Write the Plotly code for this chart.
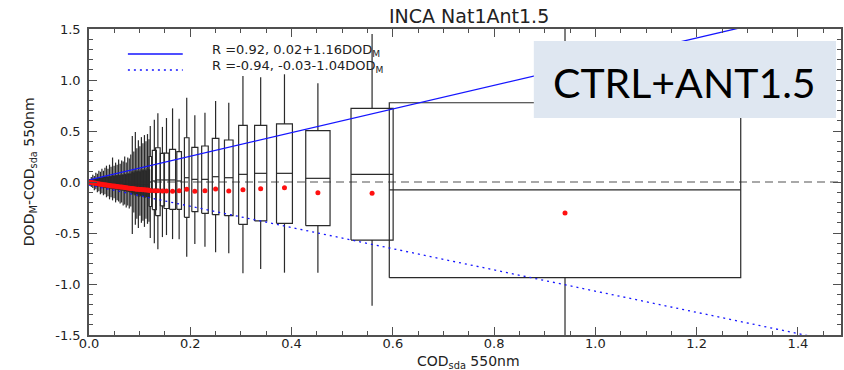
import plotly.graph_objects as go

# ---------------- data ----------------
# dense, narrow bins (COD_sda < 0.12)
dense_x = [0.0015, 0.0045, 0.0075, 0.0105, 0.0135, 0.0165, 0.0195, 0.0225, 0.0255, 0.0285,
           0.0315, 0.0345, 0.0375, 0.0405, 0.0435, 0.0465, 0.0495, 0.0525, 0.0555, 0.0585,
           0.0615, 0.0645, 0.0675, 0.0705, 0.0735, 0.0765, 0.0795, 0.0825, 0.0855, 0.0885,
           0.0915, 0.0945, 0.0975, 0.1005, 0.1035, 0.1065, 0.1095, 0.1125, 0.1155, 0.1185]
dense_hw = [0.0012] * 40
dense_hi = [0.03, 0.05, 0.07, 0.06, 0.09, 0.08, 0.11, 0.10, 0.13, 0.11,
            0.14, 0.16, 0.13, 0.17, 0.15, 0.24, 0.16, 0.19, 0.17, 0.22,
            0.18, 0.21, 0.20, 0.25, 0.19, 0.24, 0.23, 0.27, 0.45, 0.30,
            0.49, 0.33, 0.41, 0.35, 0.44, 0.38, 0.46, 0.40, 0.47, 0.42]
dense_q3 = [0.01, 0.015, 0.02, 0.02, 0.03, 0.03, 0.035, 0.035, 0.04, 0.04,
            0.045, 0.05, 0.045, 0.05, 0.05, 0.06, 0.055, 0.06, 0.06, 0.065,
            0.06, 0.07, 0.065, 0.075, 0.07, 0.08, 0.075, 0.08, 0.10, 0.09,
            0.11, 0.10, 0.11, 0.10, 0.12, 0.11, 0.12, 0.11, 0.13, 0.12]
dense_med = [0.0, 0.0, -0.002, -0.003, -0.004, -0.005, -0.006, -0.007, -0.008, -0.009,
             -0.010, -0.011, -0.012, -0.013, -0.013, -0.014, -0.015, -0.015, -0.016, -0.017,
             -0.017, -0.018, -0.019, -0.019, -0.020, -0.020, -0.021, -0.021, -0.022, -0.022,
             -0.023, -0.023, -0.024, -0.024, -0.025, -0.025, -0.025, -0.026, -0.026, -0.026]
dense_q1 = [-0.012, -0.018, -0.022, -0.028, -0.03, -0.035, -0.035, -0.04, -0.045, -0.05,
            -0.05, -0.055, -0.055, -0.06, -0.06, -0.065, -0.065, -0.07, -0.07, -0.075,
            -0.075, -0.08, -0.08, -0.085, -0.09, -0.09, -0.095, -0.095, -0.12, -0.11,
            -0.13, -0.12, -0.14, -0.13, -0.14, -0.14, -0.15, -0.14, -0.15, -0.15]
dense_lo = [-0.03, -0.05, -0.06, -0.08, -0.07, -0.10, -0.09, -0.12, -0.11, -0.13,
            -0.12, -0.15, -0.14, -0.17, -0.15, -0.18, -0.16, -0.20, -0.18, -0.19,
            -0.21, -0.20, -0.23, -0.22, -0.25, -0.23, -0.26, -0.24, -0.51, -0.30,
            -0.42, -0.36, -0.45, -0.33, -0.40, -0.38, -0.44, -0.36, -0.41, -0.39]
dense_mean = [-0.002, -0.005, -0.008, -0.011, -0.013, -0.016, -0.018, -0.021, -0.023, -0.026,
              -0.028, -0.030, -0.032, -0.034, -0.036, -0.038, -0.040, -0.042, -0.044, -0.046,
              -0.048, -0.050, -0.052, -0.054, -0.056, -0.058, -0.061, -0.063, -0.064, -0.066,
              -0.068, -0.070, -0.071, -0.073, -0.074, -0.075, -0.077, -0.078, -0.079, -0.080]

# wider bins
wide_x = [0.121, 0.129, 0.136, 0.145, 0.153, 0.165, 0.178, 0.193, 0.209, 0.229,
          0.250, 0.276, 0.304, 0.339, 0.386, 0.452, 0.559, 0.940]
wide_hw = [0.0026, 0.004, 0.0045, 0.004, 0.005, 0.006, 0.0046, 0.0046, 0.006, 0.0065,
           0.0065, 0.0085, 0.0085, 0.012, 0.0157, 0.024, 0.0416, 0.347]
wide_hi = [0.55, 0.61, 0.673, 0.54, 0.627, 0.722, 0.621, 0.827, 0.654, 0.680,
           0.794, 0.778, 1.039, 1.026, 1.056, 0.967, 1.45, 1.6]
wide_q3 = [0.25, 0.31, 0.336, 0.28, 0.284, 0.32, 0.297, 0.434, 0.340, 0.353,
           0.428, 0.412, 0.556, 0.556, 0.569, 0.503, 0.722, 0.777]
wide_med = [0.0, 0.01, 0.02, 0.02, 0.02, 0.02, 0.01, 0.042, 0.026, 0.026,
            0.052, 0.042, 0.075, 0.085, 0.085, 0.036, 0.075, -0.078]
wide_q1 = [-0.24, -0.27, -0.33, -0.235, -0.26, -0.268, -0.268, -0.346, -0.291, -0.307,
           -0.320, -0.330, -0.415, -0.382, -0.405, -0.428, -0.569, -0.938]
wide_lo = [-0.55, -0.60, -0.66, -0.54, -0.52, -0.56, -0.562, -0.732, -0.608, -0.634,
           -0.689, -0.699, -0.895, -0.853, -0.889, -0.889, -1.213, -1.6]
wide_mean = [-0.083, -0.085, -0.087, -0.088, -0.089, -0.090, -0.085, -0.072, -0.091, -0.085,
             -0.069, -0.088, -0.075, -0.065, -0.056, -0.105, -0.111, -0.304]

# regression lines
fit_r = [0.92, -0.94]
fit_intercept = [0.02, -0.03]
fit_slope = [1.16, -1.04]
fit_dash = ["solid", "2px,4px"]

x_ticks = [0.0, 0.2, 0.4, 0.6, 0.8, 1.0, 1.2, 1.4]
y_ticks = [-1.5, -1.0, -0.5, 0.0, 0.5, 1.0, 1.5]

# ---------------- figure ----------------
cx = dense_x + wide_x
chw = dense_hw + wide_hw
chi = dense_hi + wide_hi
cq3 = dense_q3 + wide_q3
cmed = dense_med + wide_med
cq1 = dense_q1 + wide_q1
clo = dense_lo + wide_lo
cmean = dense_mean + wide_mean

bx, by = [], []
for x, hw, hi, q3, md, q1, lo in zip(cx, chw, chi, cq3, cmed, cq1, clo):
    bx += [x - hw, x + hw, x + hw, x - hw, x - hw, None]
    by += [q1, q1, q3, q3, q1, None]
    bx += [x - hw, x + hw, None, x, x, None, x, x, None]
    by += [md, md, None, q3, hi, None, q1, lo, None]

fig = go.Figure()

XMAX = 1.485
fig.add_trace(go.Scatter(x=[0, XMAX], y=[0, 0], mode="lines",
                         line=dict(color="#8c8c8c", width=1.6, dash="8px,5px"),
                         hoverinfo="skip", showlegend=False))

fig.add_trace(go.Scatter(x=bx, y=by, mode="lines",
                         line=dict(color="#2a2a2a", width=1.2),
                         hoverinfo="skip", showlegend=False))

for a, b, d in zip(fit_intercept, fit_slope, fit_dash):
    fig.add_trace(go.Scatter(x=[0, XMAX], y=[a, a + b * XMAX], mode="lines",
                             line=dict(color="#1515ff", width=1.3, dash=d),
                             hoverinfo="skip", showlegend=False))

fig.add_trace(go.Scatter(x=cx, y=cmean, mode="markers",
                         marker=dict(color="#ff1010", size=5, line=dict(width=0)),
                         hoverinfo="skip", showlegend=False))

L, R, T, B = 89, 1, 29, 35
W, H = 844, 370
pw, ph = W - L - R, H - T - B


def px(xp):
    return (xp - L) / pw


def py(yp):
    return (H - B - yp) / ph


# legend
legend_y_line = [54, 70]
legend_y_text = [51, 66]
for r, a, b, d, yl, yt in zip(fit_r, fit_intercept, fit_slope, fit_dash, legend_y_line, legend_y_text):
    fig.add_shape(type="line", xref="paper", yref="paper",
                  x0=px(128), x1=px(183), y0=py(yl), y1=py(yl),
                  line=dict(color="#1515ff", width=1.3, dash=d))
    sign = "+" if b >= 0 else "-"
    txt = f"R ={r:.2f}, {a:.2f}{sign}{abs(b):.2f}DOD<sub>M</sub>"
    fig.add_annotation(xref="paper", yref="paper", x=px(210), y=py(yt),
                       xanchor="left", yanchor="middle", showarrow=False, text=txt,
                       font=dict(family="DejaVu Sans", size=13, color="#222"))

# CTRL label box
fig.add_shape(type="rect", xref="paper", yref="paper",
              x0=px(535), x1=px(838), y0=py(118), y1=py(41),
              fillcolor="#dfe7f1", line=dict(width=0), layer="above")
fig.add_annotation(xref="paper", yref="paper", x=px(686), y=py(82),
                   xanchor="center", yanchor="middle", showarrow=False,
                   text="CTRL+ANT1.5", font=dict(family="Lato", size=41, color="#000"))

# title and axis titles
fig.add_annotation(xref="paper", yref="paper", x=px(470), y=py(16),
                   xanchor="center", yanchor="middle", showarrow=False,
                   text="INCA Nat1Ant1.5", font=dict(family="DejaVu Sans", size=19, color="#222"))
fig.add_annotation(xref="paper", yref="paper", x=px(470), y=py(362),
                   xanchor="center", yanchor="middle", showarrow=False,
                   text="COD<sub>sda</sub> 550nm", font=dict(family="DejaVu Sans", size=14, color="#222"))
fig.add_annotation(xref="paper", yref="paper", x=px(30), y=py(172),
                   xanchor="center", yanchor="middle", showarrow=False, textangle=-90,
                   text="DOD<sub>M</sub>-COD<sub>sda</sub> 550nm",
                   font=dict(family="DejaVu Sans", size=14, color="#222"))

axis_common = dict(showgrid=False, zeroline=False, showline=True, linecolor="#505050",
                   linewidth=1.5, ticks="inside", ticklen=8, tickwidth=1.3, tickcolor="#505050",
                   mirror="ticks", tickfont=dict(family="DejaVu Sans", size=13, color="#222"))

fig.update_xaxes(range=[0, XMAX], tickvals=x_ticks, ticktext=[f"{v:.1f}" for v in x_ticks],
                 minor=dict(dtick=0.05, ticklen=4, ticks="inside", tickcolor="#505050", tickwidth=1),
                 ticklabelstandoff=-4, **axis_common)
fig.update_yaxes(range=[-1.5, 1.5], tickvals=y_ticks, ticktext=[f"{v:.1f}" for v in y_ticks],
                 minor=dict(dtick=0.1, ticklen=4, ticks="inside", tickcolor="#505050", tickwidth=1),
                 ticklabelstandoff=4, **axis_common)

fig.update_layout(width=W, height=H, margin=dict(l=L, r=R, t=T, b=B),
                  plot_bgcolor="white", paper_bgcolor="white", showlegend=False)

fig.write_html("out.html")
